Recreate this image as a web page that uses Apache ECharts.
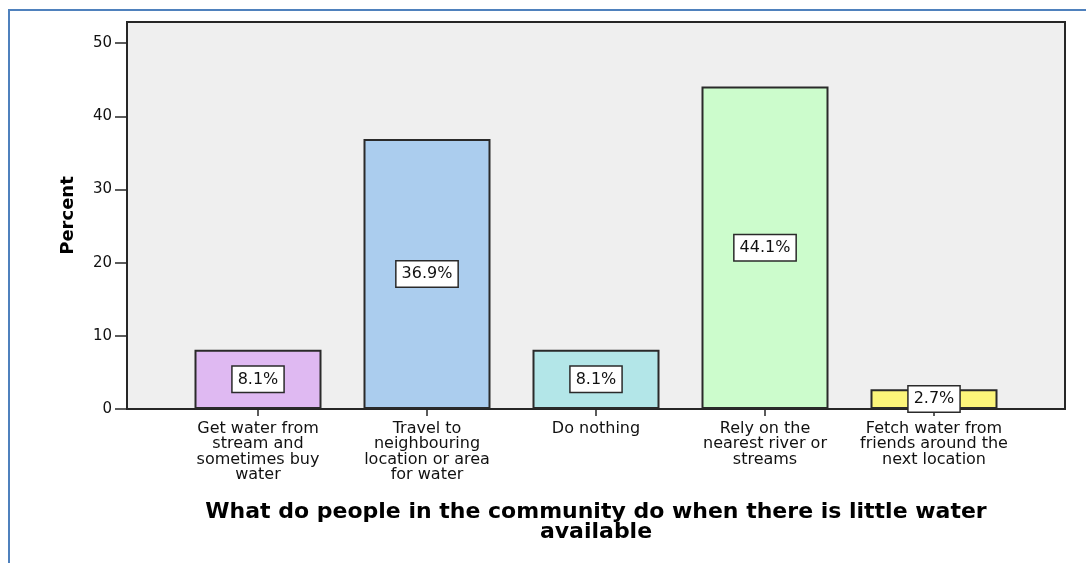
<!DOCTYPE html>
<html>
<head>
<meta charset="utf-8">
<title>Coping with water shortage</title>
<script src="https://cdn.jsdelivr.net/npm/echarts@6/dist/echarts.min.js"></script>
<style>
  html, body { margin: 0; padding: 0; background: #fff; }
  #chart { width: 1086px; height: 563px; }
</style>
</head>
<body>
<div id="chart"></div>
<script>
// Responses to "what do people do when water is scarce" (percent of respondents)
const categories = [
  'Get water from\nstream and\nsometimes buy\nwater',
  'Travel to\nneighbouring\nlocation or area\nfor water',
  'Do nothing',
  'Rely on the\nnearest river or\nstreams',
  'Fetch water from\nfriends around the\nnext location'
];
const percents = [8.1, 36.9, 8.1, 44.1, 2.7];
const barColors = ['#dfb9f2', '#abcdee', '#b3e6e8', '#ccfccc', '#fcf57a'];
const yTicks = [0, 10, 20, 30, 40, 50];

const FONT = '"DejaVu Sans", Verdana, sans-serif';
const INK = '#111';

const chart = echarts.init(document.getElementById('chart'), null, { renderer: 'canvas' });

const plot = { left: 127, top: 22, right: 21, bottom: 154 };
// inner grid: category bands are narrower than the frame, centred inside it
const bands = { left: 173.5, top: 22, right: 67.5, bottom: 154 };

chart.setOption({
  animation: false,
  backgroundColor: '#ffffff',
  graphic: [
    { type: 'line', shape: { x1: 8, y1: 10, x2: 1086, y2: 10 },
      style: { stroke: '#4f81bd', lineWidth: 2 }, silent: true },
    { type: 'line', shape: { x1: 9, y1: 10, x2: 9, y2: 563 },
      style: { stroke: '#4f81bd', lineWidth: 2 }, silent: true }
  ],
  grid: [
    Object.assign({ show: true, backgroundColor: '#efefef', borderColor: '#262626', borderWidth: 2 }, plot),
    Object.assign({ show: false }, bands)
  ],
  xAxis: [
    { type: 'value', gridIndex: 0, show: false, min: 0, max: 1 },
    {
      type: 'category', gridIndex: 1, data: categories,
      axisLine: { show: false },
      axisTick: { show: true, alignWithLabel: true, length: 7, lineStyle: { color: '#262626', width: 1.5 } },
      axisLabel: { interval: 0, margin: 12, color: INK, fontFamily: FONT, fontSize: 16, lineHeight: 15.5, align: 'center' },
      name: 'What do people in the community do when there is little water\navailable',
      nameLocation: 'middle',
      nameGap: 93,
      nameTextStyle: { color: '#000', fontFamily: FONT, fontWeight: 'bold', fontSize: 22, lineHeight: 20 }
    }
  ],
  yAxis: [
    {
      type: 'value', gridIndex: 0, min: 0, max: 52.9,
      axisLine: { show: false },
      splitLine: { show: false },
      axisTick: { show: true, length: 12, customValues: yTicks, lineStyle: { color: '#262626', width: 1.5 } },
      axisLabel: { customValues: yTicks, margin: 15, color: INK, fontFamily: FONT, fontSize: 15 },
      name: 'Percent',
      nameLocation: 'middle',
      nameGap: 50,
      nameTextStyle: { color: '#000', fontFamily: FONT, fontWeight: 'bold', fontSize: 18 }
    },
    { type: 'value', gridIndex: 1, min: 0, max: 52.9, show: false }
  ],
  series: [{
    type: 'bar',
    xAxisIndex: 1,
    yAxisIndex: 1,
    barWidth: 127,
    data: percents.map((v, i) => ({ value: v, itemStyle: { color: barColors[i] } })),
    itemStyle: { borderColor: '#2a2a2a', borderWidth: 2 },
    label: {
      show: true,
      position: 'inside',
      formatter: p => p.value.toFixed(1) + '%',
      color: '#111',
      fontFamily: FONT,
      fontSize: 16,
      lineHeight: 18,
      backgroundColor: '#ffffff',
      borderColor: '#2a2a2a',
      borderWidth: 1.5,
      padding: [4, 5, 3, 5]
    }
  }]
});
</script>
</body>
</html>
